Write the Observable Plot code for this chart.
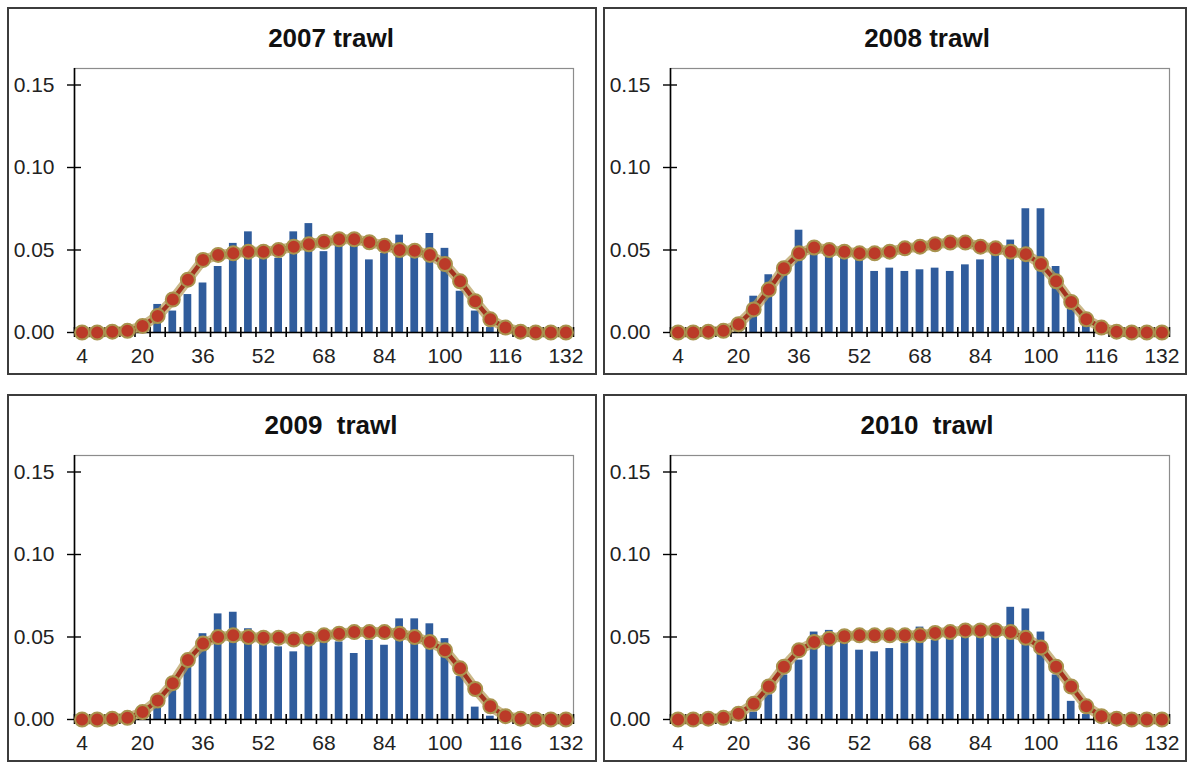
<!DOCTYPE html>
<html>
<head>
<meta charset="utf-8">
<script src="https://cdn.jsdelivr.net/npm/d3@7"></script>
<script src="https://cdn.jsdelivr.net/npm/@observablehq/plot@0.6"></script>
<style>
  body { margin: 0; background: #fff; font-family: "Liberation Sans", Arial, sans-serif; }
  #root { position: relative; width: 1190px; height: 765px; overflow: hidden; }
  .panel { position: absolute; }
  .border { position: absolute; inset: 0; border: 2px solid #3c3c3c; box-sizing: border-box; pointer-events: none; }
  .title { position: absolute; top: 16px; left: 0; width: 648px; text-align: center; font-weight: bold;
           font-size: 26px; line-height: 30px; white-space: pre; color: #111; }
  .panel svg { position: absolute; left: 0; top: 0; }
</style>
</head>
<body>
<div id="root"></div>
<script>
// ---- data ----
const lengths = [4, 8, 12, 16, 20, 24, 28, 32, 36, 40, 44, 48, 52, 56, 60, 64, 68, 72, 76, 80,
                 84, 88, 92, 96, 100, 104, 108, 112, 116, 120, 124, 128, 132];
const tickLabels = [4, 20, 36, 52, 68, 84, 100, 116, 132];
const binEdges = [2, 6, 10, 14, 18, 22, 26, 30, 34, 38, 42, 46, 50, 54, 58, 62, 66, 70, 74, 78,
                  82, 86, 90, 94, 98, 102, 106, 110, 114, 118, 122, 126, 130, 134];
const yTicks = [0, 0.05, 0.10, 0.15];
const titles = ["2007 trawl", "2008 trawl", "2009  trawl", "2010  trawl"];

const obs2007 = [0, 0, 0, 0, 0.001, 0.017, 0.013, 0.023, 0.030, 0.040, 0.054, 0.061, 0.046, 0.045, 0.061, 0.066,
                 0.049, 0.053, 0.054, 0.044, 0.048, 0.059, 0.049, 0.060, 0.051, 0.025, 0.013, 0.003, 0, 0, 0, 0, 0];
const fit2007 = [0, 0, 0.0005, 0.001, 0.004, 0.010, 0.020, 0.032, 0.044, 0.047, 0.048, 0.049, 0.049, 0.050, 0.052, 0.0535,
                 0.055, 0.0565, 0.0565, 0.0547, 0.0526, 0.050, 0.0496, 0.047, 0.0415, 0.031, 0.019, 0.008, 0.003, 0.0005, 0, 0, 0];

const obs2008 = [0, 0, 0, 0, 0.001, 0.022, 0.035, 0.035, 0.062, 0.048, 0.047, 0.045, 0.045, 0.037, 0.039, 0.037,
                 0.038, 0.039, 0.037, 0.041, 0.044, 0.047, 0.056, 0.075, 0.075, 0.040, 0.014, 0.004, 0, 0, 0, 0, 0];
const fit2008 = [0, 0, 0.0005, 0.001, 0.005, 0.014, 0.026, 0.039, 0.048, 0.0515, 0.050, 0.049, 0.048, 0.048, 0.049, 0.051,
                 0.052, 0.0535, 0.0545, 0.0545, 0.052, 0.051, 0.049, 0.0475, 0.0415, 0.031, 0.0185, 0.008, 0.003, 0.0005, 0, 0, 0];

const obs2009 = [0, 0, 0, 0, 0.001, 0.007, 0.018, 0.032, 0.052, 0.064, 0.065, 0.055, 0.046, 0.044, 0.041, 0.046,
                 0.047, 0.047, 0.040, 0.048, 0.045, 0.061, 0.061, 0.058, 0.049, 0.026, 0.0075, 0.002, 0, 0, 0, 0, 0];
const fit2009 = [0, 0, 0.0005, 0.001, 0.0045, 0.0115, 0.022, 0.036, 0.046, 0.050, 0.051, 0.050, 0.0496, 0.0496, 0.0485, 0.049,
                 0.051, 0.052, 0.053, 0.053, 0.053, 0.052, 0.050, 0.047, 0.042, 0.031, 0.0185, 0.008, 0.002, 0.0005, 0, 0, 0];

const obs2010 = [0, 0, 0, 0, 0.0005, 0.0045, 0.015, 0.027, 0.036, 0.053, 0.054, 0.050, 0.042, 0.041, 0.043, 0.046,
                 0.056, 0.048, 0.049, 0.051, 0.051, 0.052, 0.068, 0.067, 0.053, 0.027, 0.011, 0.003, 0, 0, 0, 0, 0];
const fit2010 = [0, 0, 0.0005, 0.001, 0.0035, 0.0095, 0.020, 0.032, 0.042, 0.047, 0.049, 0.0505, 0.051, 0.051, 0.051, 0.051,
                 0.051, 0.0525, 0.053, 0.054, 0.054, 0.054, 0.053, 0.0495, 0.0437, 0.032, 0.020, 0.008, 0.002, 0.0005, 0, 0, 0];

const series = [[obs2007, fit2007], [obs2008, fit2008], [obs2009, fit2009], [obs2010, fit2010]];

// ---- layout ----
const panels = [
  {left: 7,   top: 7,   width: 590, height: 368, mr: 24},
  {left: 603, top: 7,   width: 584, height: 368, mr: 18},
  {left: 7,   top: 394, width: 590, height: 368, mr: 24},
  {left: 603, top: 394, width: 584, height: 368, mr: 18}
];
const xDomain = [binEdges[0], binEdges[binEdges.length - 1]];
const yDomain = [0, 0.16];
const halfBin = (binEdges[1] - binEdges[0]) / 2;

const root = document.getElementById("root");

panels.forEach((p, k) => {
  const [obs, fit] = series[k];
  const data = lengths.map((len, i) => ({len, obs: obs[i], fit: fit[i]}));

  const div = document.createElement("div");
  div.className = "panel";
  Object.assign(div.style, {left: p.left + "px", top: p.top + "px", width: p.width + "px", height: p.height + "px"});

  const chart = Plot.plot({
    width: p.width,
    height: p.height,
    marginLeft: 67,
    marginRight: p.mr,
    marginTop: 61,
    marginBottom: 43,
    style: {fontFamily: "'Liberation Sans', Arial, sans-serif", fontSize: "21px", color: "#222", background: "transparent", overflow: "visible"},
    x: {domain: xDomain, label: null},
    y: {domain: yDomain, label: null},
    marks: [
      Plot.frame({stroke: "#8c8c8c", strokeWidth: 1.2}),
      Plot.rectY(data, {x1: d => d.len - halfBin, x2: d => d.len + halfBin, y: "obs",
                        fill: "#2f5c9c", insetLeft: 3.7, insetRight: 3.7}),
      Plot.ruleY([0], {stroke: "#000", strokeWidth: 1.6}),
      Plot.ruleX([xDomain[0]], {stroke: "#000", strokeWidth: 1.6}),
      Plot.ruleX(binEdges, {x: d => d, y1: 0, y2: 0, insetTop: 5, insetBottom: 5, stroke: "#000", strokeWidth: 1.6}),
      Plot.ruleY(yTicks, {y: d => d, x1: xDomain[0], x2: xDomain[0], insetLeft: 7, insetRight: 7, stroke: "#000", strokeWidth: 1.4}),
      Plot.line(data, {x: "len", y: "fit", stroke: "#b39a55", strokeWidth: 10, strokeOpacity: 0.7}),
      Plot.line(data, {x: "len", y: "fit", stroke: "#a3321f", strokeWidth: 4.5}),
      Plot.dot(data, {x: "len", y: "fit", r: 7, fill: "#bb3a28", stroke: "#a8934e", strokeWidth: 2}),
      Plot.axisX({ticks: tickLabels, tickSize: 0, tickPadding: 16, tickFormat: d => String(d), fill: "#222", label: null}),
      Plot.axisY({ticks: yTicks, tickSize: 0, tickPadding: 20, tickFormat: d3.format(".2f"), fill: "#222", label: null})
    ]
  });
  div.appendChild(chart);

  const title = document.createElement("div");
  title.className = "title";
  title.textContent = titles[k];
  div.appendChild(title);

  const border = document.createElement("div");
  border.className = "border";
  div.appendChild(border);

  root.appendChild(div);
});
</script>
</body>
</html>
